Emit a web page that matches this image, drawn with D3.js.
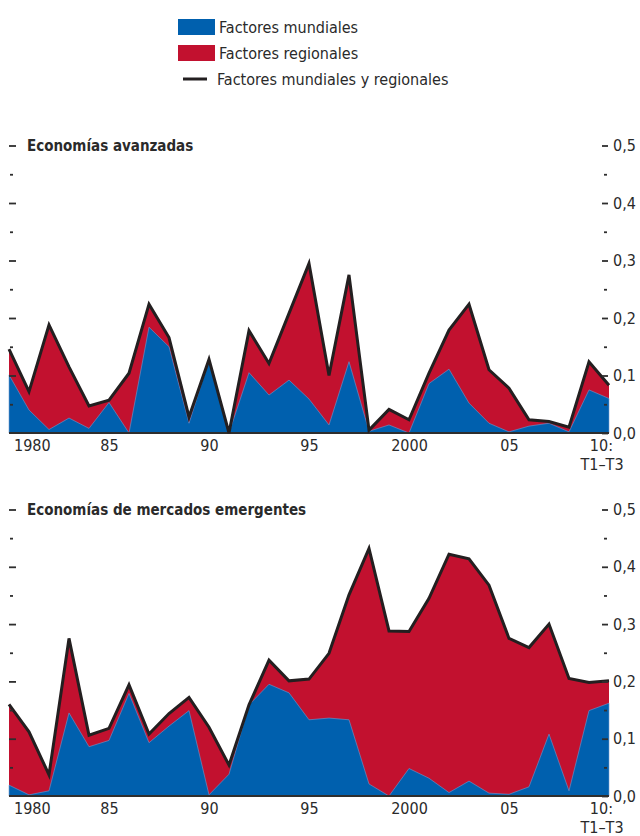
<!DOCTYPE html>
<html>
<head>
<meta charset="utf-8">
<script src="https://cdn.jsdelivr.net/npm/d3@7"></script>
<style>
  html, body { margin: 0; padding: 0; background: #ffffff; }
  svg text { font-family: "Liberation Sans Narrow", "Arial Narrow", "DejaVu Sans Condensed", sans-serif; fill: #2a2a2a; }
</style>
</head>
<body>
<svg id="chart" width="640" height="836"></svg>
<script>
// ---- Data ----
const years = [1980,1981,1982,1983,1984,1985,1986,1987,1988,1989,1990,1991,1992,1993,1994,1995,1996,1997,1998,1999,2000,2001,2002,2003,2004,2005,2006,2007,2008,2009,2010];

// Economías avanzadas
const advWorld = [0.101,0.040,0.006,0.026,0.008,0.053,0.000,0.184,0.150,0.017,0.127,0.000,0.105,0.066,0.092,0.059,0.014,0.124,0.003,0.014,0.000,0.086,0.111,0.052,0.017,0.002,0.012,0.017,0.002,0.075,0.060];
const advTotal = [0.146,0.072,0.188,0.115,0.047,0.057,0.104,0.224,0.166,0.028,0.128,0.000,0.178,0.121,0.208,0.295,0.100,0.275,0.005,0.041,0.023,0.104,0.179,0.224,0.110,0.078,0.023,0.020,0.010,0.124,0.083];

// Economías de mercados emergentes
const emWorld = [0.019,0.002,0.009,0.145,0.086,0.097,0.179,0.093,0.122,0.149,0.002,0.038,0.159,0.195,0.180,0.133,0.136,0.133,0.021,0.000,0.048,0.031,0.006,0.026,0.005,0.003,0.016,0.108,0.009,0.149,0.162];
const emTotal = [0.160,0.112,0.037,0.275,0.106,0.118,0.194,0.108,0.144,0.172,0.120,0.054,0.159,0.237,0.201,0.204,0.249,0.351,0.432,0.288,0.287,0.345,0.422,0.414,0.368,0.275,0.259,0.300,0.205,0.198,0.201];

const yMajor = [0, 0.1, 0.2, 0.3, 0.4, 0.5];
const yMinor = [0.05, 0.15, 0.25, 0.35, 0.45];
const yTickLabels = ["0,0","0,1","0,2","0,3","0,4","0,5"];
const xTickYears = [1980, 1985, 1990, 1995, 2000, 2005, 2010];
const xTickLabels = ["1980","85","90","95","2000","05","10:"];
const xTickSub = "T1\u2013T3";

const legendLabels = ["Factores mundiales", "Factores regionales", "Factores mundiales y regionales"];
const panelTitles = ["Economías avanzadas", "Economías de mercados emergentes"];

// ---- Styles ----
const BLUE = "#0060ae";
const RED = "#c2112f";
const INK = "#231f20";

const svg = d3.select("#chart");

const x = d3.scaleLinear().domain([1980, 2010]).range([9, 609]);

// Legend
const lg = svg.append("g");
lg.append("rect").attr("x", 178).attr("y", 19).attr("width", 37).attr("height", 16).attr("fill", BLUE);
lg.append("rect").attr("x", 178).attr("y", 45).attr("width", 37).attr("height", 16).attr("fill", RED);
lg.append("line").attr("x1", 183).attr("x2", 207).attr("y1", 79).attr("y2", 79).attr("stroke", INK).attr("stroke-width", 3);
lg.selectAll("text.leg").data(legendLabels).join("text")
  .attr("class", "leg")
  .attr("x", (d, i) => i < 2 ? 219 : 217)
  .attr("y", (d, i) => [27, 53, 79][i])
  .attr("dy", "0.35em")
  .attr("font-size", 16)
  .text(d => d);

function panel(world, total, y0, y5, title) {
  const y = d3.scaleLinear().domain([0, 0.5]).range([y0, y5]);
  const g = svg.append("g");
  const data = years.map((yr, i) => ({ yr, w: world[i], t: total[i] }));

  g.append("path").datum(data)
    .attr("d", d3.area().x(d => x(d.yr)).y0(y(0)).y1(d => y(d.t)))
    .attr("fill", RED);
  g.append("path").datum(data)
    .attr("d", d3.area().x(d => x(d.yr)).y0(y(0)).y1(d => y(d.w)))
    .attr("fill", BLUE)
    .attr("stroke", "#6f9bd0").attr("stroke-width", 0.6);

  g.append("line").attr("x1", x(1980)).attr("x2", x(2010))
    .attr("y1", y(0)).attr("y2", y(0))
    .attr("stroke", "#2e2e2e").attr("stroke-width", 2);

  g.append("path").datum(data)
    .attr("d", d3.line().x(d => x(d.yr)).y(d => y(d.t)))
    .attr("fill", "none").attr("stroke", INK).attr("stroke-width", 3)
    .attr("stroke-linejoin", "miter");

  const leftMaj = g.append("g").attr("transform", `translate(${x(1980)},0)`)
    .call(d3.axisRight(y).tickValues(yMajor.slice(1)).tickSize(7).tickFormat(""));
  const leftMin = g.append("g").attr("transform", `translate(${x(1980) + 1},0)`)
    .call(d3.axisRight(y).tickValues(yMinor).tickSize(3).tickFormat(""));
  const rightMaj = g.append("g").attr("transform", `translate(${x(2010) - 7},0)`)
    .call(d3.axisRight(y).tickValues(yMajor).tickSize(6).tickPadding(5)
      .tickFormat((d, i) => yTickLabels[i]));
  const rightMin = g.append("g").attr("transform", `translate(${x(2010) - 5},0)`)
    .call(d3.axisRight(y).tickValues(yMinor).tickSize(3).tickFormat(""));
  [leftMaj, leftMin, rightMaj, rightMin].forEach(a => {
    a.select(".domain").remove();
    a.selectAll("line").attr("stroke", "#2e2e2e").attr("stroke-width", 1.8);
    a.selectAll("text").attr("font-size", 16).attr("fill", "#2a2a2a")
      .attr("font-family", null);
  });

  g.selectAll("text.xl").data(xTickYears).join("text")
    .attr("class", "xl")
    .attr("x", (d, i) => i === 0 ? x(d) + 5 : (i === xTickYears.length - 1 ? x(d) + 4 : x(d) + 0.5))
    .attr("y", y(0) + 12)
    .attr("dy", "0.35em")
    .attr("text-anchor", (d, i) => i === 0 ? "start" : (i === xTickYears.length - 1 ? "end" : "middle"))
    .attr("font-size", 16)
    .text((d, i) => xTickLabels[i]);
  g.append("text")
    .attr("x", x(2010) - 7).attr("y", y(0) + 31).attr("dy", "0.35em")
    .attr("text-anchor", "middle").attr("font-size", 16)
    .text(xTickSub);

  g.append("text").attr("x", 27).attr("y", y(0.5)).attr("dy", "0.35em")
    .attr("font-size", 15).attr("font-weight", "bold").text(title);
}

panel(advWorld, advTotal, 433, 145.5, panelTitles[0]);
panel(emWorld, emTotal, 796, 509.5, panelTitles[1]);
</script>
</body>
</html>
